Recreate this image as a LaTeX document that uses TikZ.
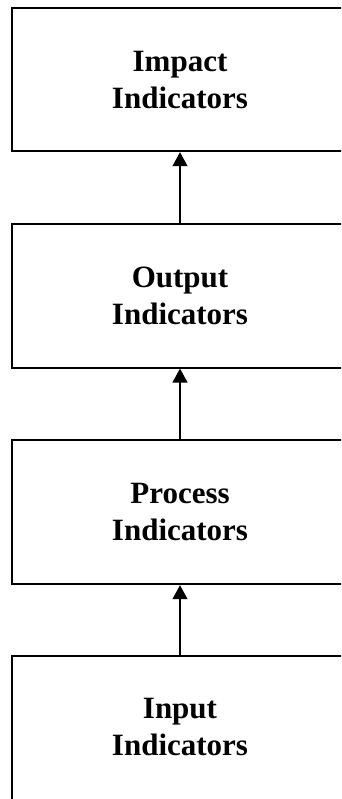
\documentclass[tikz,border=0pt]{standalone}
\usepackage{fontspec}
\setmainfont{Liberation Serif}
\usetikzlibrary{arrows.meta}
\begin{document}
\begin{tikzpicture}[x=1pt,y=1pt,
  ibox/.style={draw=black, line width=1.8pt, minimum width=336pt, inner sep=0pt,
    align=center, font=\bfseries\fontsize{31}{37}\selectfont},
  uparrow/.style={line width=1.3pt, -{Triangle[length=14pt,width=15pt]}}]
\useasboundingbox (0,0) rectangle (341,-799);
\clip (0,0) rectangle (341,-799);
\node[ibox, minimum height=143pt] (b1) at (180,-79.8) {Impact\\Indicators};
\node[ibox, minimum height=143.4pt] (b2) at (180,-296) {Output\\Indicators};
\node[ibox, minimum height=144pt] (b3) at (180,-512.3) {Process\\Indicators};
\node[ibox, minimum height=145pt, text depth=3pt] (b4) at (180,-728.8) {Input\\Indicators};
\draw[uparrow] (b2.north) -- (b1.south);
\draw[uparrow] (b3.north) -- (b2.south);
\draw[uparrow] (b4.north) -- (b3.south);
\end{tikzpicture}
\end{document}
